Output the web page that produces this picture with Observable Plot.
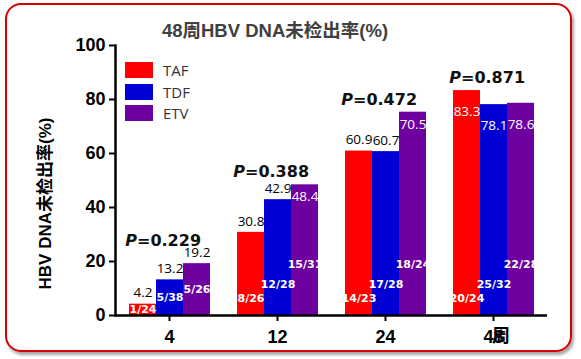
<!DOCTYPE html>
<html><head><meta charset="utf-8">
<script src="https://cdn.jsdelivr.net/npm/d3@7"></script>
<script src="https://cdn.jsdelivr.net/npm/@observablehq/plot@0.6"></script>
<style>
html,body{margin:0;padding:0;background:#fff;}
#wrap{position:relative;width:581px;height:359px;overflow:hidden;background:#fff;}
#border{position:absolute;left:5px;top:3px;width:567px;height:349px;box-sizing:border-box;border:2.5px solid #d40000;border-radius:16px;box-shadow:2px 3px 3px rgba(0,0,0,0.35);}
#title{position:absolute;left:0;top:20px;width:550px;text-align:center;line-height:22px;font-size:18.5px;font-weight:bold;color:#404040;font-family:"Liberation Sans","Noto Sans CJK SC",sans-serif;}
#chart{position:absolute;left:0;top:0;}
#legend{position:absolute;left:125px;top:62px;font-family:"Open Sans",sans-serif;font-size:15px;color:#333;}
.row{position:relative;height:21.5px;}
.sw{position:absolute;left:0;top:0;width:28px;height:16px;}
.lb{position:absolute;left:38px;top:0;line-height:16px;}
</style></head>
<body><div id="wrap"><div id="border"></div><div id="chart"></div><div id="title"></div><div id="legend"></div></div>
<script>
const titleText = "48周HBV DNA未检出率(%)";
const yLabel = "HBV DNA未检出率(%)";
const xLabel = "周";
const weeks = [4, 12, 24, 48];
const drugs = ["TAF", "TDF", "ETV"];
const colors = ["#ff0000", "#0000d4", "#6e00a0"];
const TAF = [4.2, 30.8, 60.9, 83.3];
const TDF = [13.2, 42.9, 60.7, 78.1];
const ETV = [19.2, 48.4, 75.3, 78.6];
const TAFLabel = ["4.2", "30.8", "60.9", "83.3"];
const TDFLabel = ["13.2", "42.9", "60.7", "78.1"];
const ETVLabel = ["19.2", "48.4", "70.5", "78.6"];
const TAFn = ["1/24", "8/26", "14/23", "20/24"];
const TDFn = ["5/38", "12/28", "17/28", "25/32"];
const ETVn = ["5/26", "15/31", "18/24", "22/28"];
const pValues = ["0.229", "0.388", "0.472", "0.871"];
const yTicks = [0, 20, 40, 60, 80, 100];

// style: which value labels sit inside the bar
const insideLabels = new Set(["12-ETV", "24-ETV", "48-TAF", "48-TDF", "48-ETV"]);
const fracLevel = {TAF: 6.3, TDF: 11.4, ETV: 18.9};

const series = {TAF: [TAF, TAFLabel, TAFn], TDF: [TDF, TDFLabel, TDFn], ETV: [ETV, ETVLabel, ETVn]};
const rows = [];
weeks.forEach((w, i) => drugs.forEach(d => {
  const [v, l, n] = series[d];
  rows.push({week: w, drug: d, value: v[i], label: l[i], n: n[i], inside: insideLabels.has(w + "-" + d)});
}));
const pRows = weeks.map((w, i) => {
  const grp = rows.filter(r => r.week === w);
  const topRow = grp.reduce((a, b) => (b.value > a.value ? b : a));
  return {week: w, mid: "TDF", p: pValues[i], top: topRow.value, labelAbove: !topRow.inside};
});

document.getElementById("title").textContent = titleText;
const lg = document.getElementById("legend");
drugs.forEach((d, i) => {
  const r = document.createElement("div"); r.className = "row";
  const s = document.createElement("div"); s.className = "sw"; s.style.background = colors[i];
  const t = document.createElement("div"); t.className = "lb"; t.textContent = d;
  r.append(s, t); lg.append(r);
});

const num = "'Open Sans', sans-serif";
const dj = "'DejaVu Sans', sans-serif";
function pMarks(filter, dy) {
  const common = {filter, fx: "week", x: "mid", y: "top", dx: -33, dy, lineAnchor: "middle", fontWeight: "bold", fontSize: 16, fontFamily: dj, fill: "#111"};
  return [
    Plot.text(pRows, {...common, text: () => "P", textAnchor: "end", fontStyle: "italic"}),
    Plot.text(pRows, {...common, text: d => "=" + d.p, textAnchor: "start"})
  ];
}
const chart = Plot.plot({
  width: 581, height: 359,
  marginLeft: 113, marginRight: 33, marginTop: 45, marginBottom: 44,
  style: {background: "none", fontFamily: "'Liberation Sans', 'Noto Sans CJK SC', sans-serif", overflow: "visible", color: "#000"},
  fx: {domain: weeks, padding: 0, label: null},
  x: {domain: drugs, paddingInner: 0, paddingOuter: 0.49, axis: null},
  y: {domain: [0, 100]},
  color: {domain: drugs, range: colors},
  marks: [
    Plot.barY(rows, {fx: "week", x: "drug", y: "value", fill: "drug"}),
    Plot.text(rows, {filter: d => !d.inside, fx: "week", x: "drug", y: "value", text: "label", dy: -11, lineAnchor: "middle", fill: "#000", fontSize: 13.5, fontFamily: num}),
    Plot.text(rows, {filter: d => d.inside && d.week !== 48, fx: "week", x: "drug", y: "value", text: "label", dy: 12, lineAnchor: "middle", fill: "#fff", fontSize: 13.5, fontFamily: num}),
    Plot.text(rows, {filter: d => d.inside && d.week === 48, fx: "week", x: "drug", y: "value", text: "label", dy: 21, lineAnchor: "middle", fill: "#fff", fontSize: 13.5, fontFamily: num}),
    Plot.text(rows, {fx: "week", x: "drug", y: d => Math.min(fracLevel[d.drug], d.value / 2), text: "n", lineAnchor: "middle", fill: "#fff", fontWeight: "bold", fontSize: 11, fontFamily: dj}),
    ...pMarks(d => d.labelAbove, -23),
    ...pMarks(d => !d.labelAbove, -12.5),
    Plot.ruleY([0], {strokeWidth: 2.5}),
    Plot.frame({anchor: "left", facetAnchor: "left", strokeWidth: 2.5}),
    Plot.axisY({ticks: yTicks, tickSize: 6, tickPadding: 4, strokeWidth: 2, fontSize: 18, fontWeight: "bold", label: null}),
    Plot.axisFx({anchor: "bottom", tickSize: 6, tickPadding: 9, strokeWidth: 2, fontSize: 18, fontWeight: "bold", label: null}),
    Plot.text([{week: 4, t: yLabel}], {fx: "week", text: "t", frameAnchor: "left", textAnchor: "middle", rotate: -90, dx: -70, dy: 23, fontSize: 17, fontWeight: "bold"}),
    Plot.text([{week: 48, mid: "TDF", t: xLabel}], {fx: "week", x: "mid", text: "t", frameAnchor: "bottom", dx: 7, dy: 21, lineAnchor: "middle", fontSize: 18, fontWeight: "bold", fontFamily: "'Noto Sans CJK SC', sans-serif"})
  ]
});
document.getElementById("chart").append(chart);
</script></body></html>
